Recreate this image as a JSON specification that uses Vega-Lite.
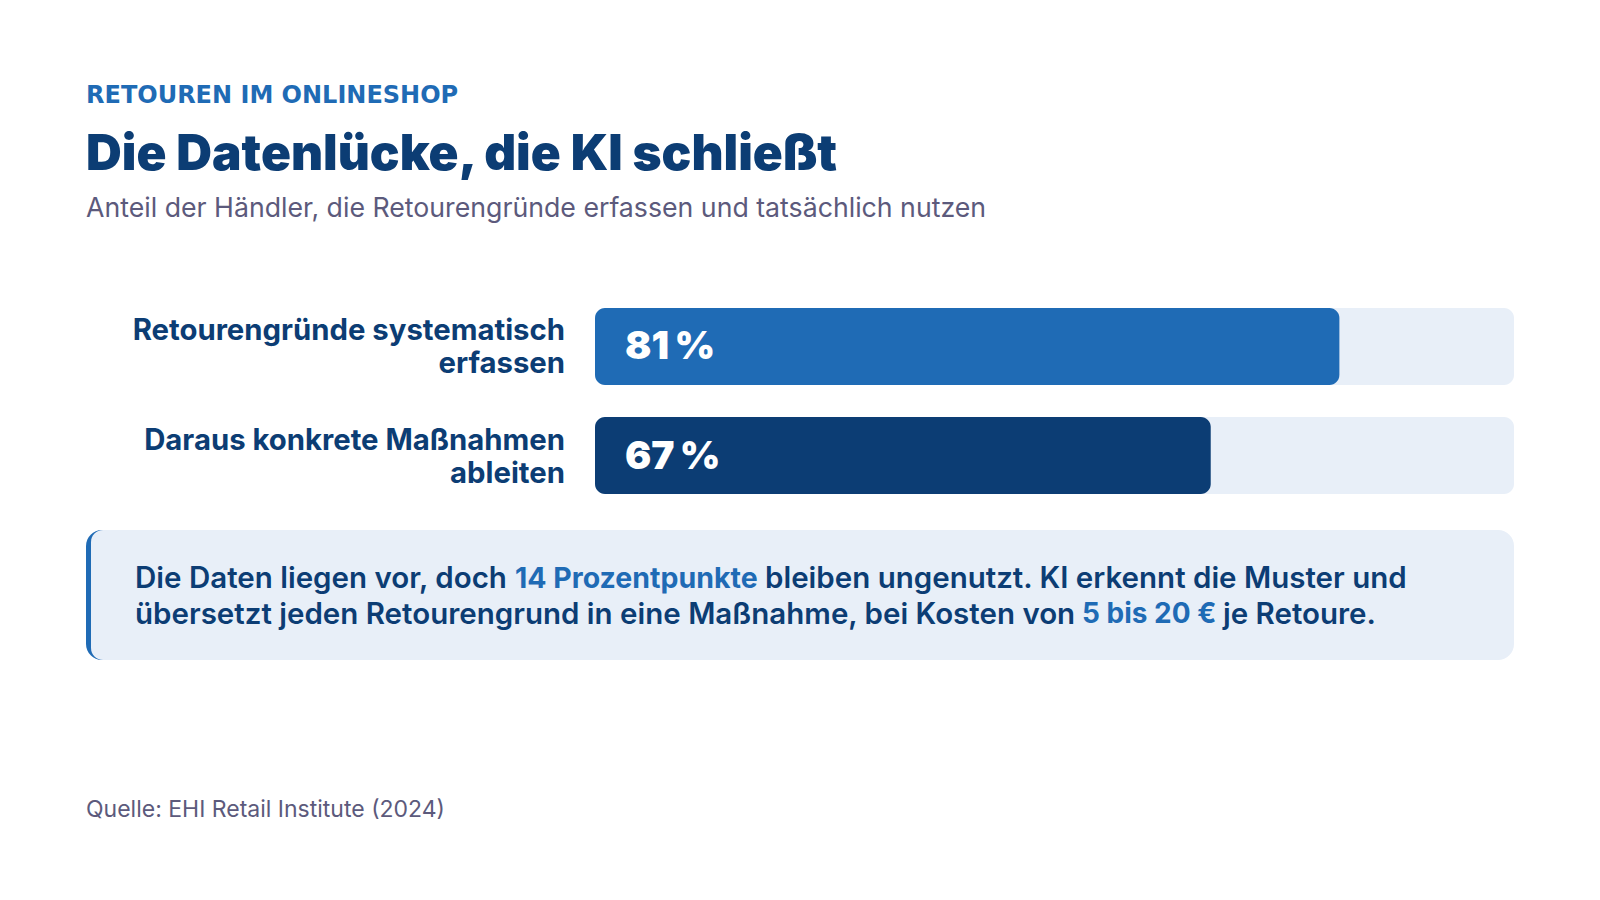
{
  "$schema": "https://vega.github.io/schema/vega-lite/v6.json",
  "background": "white",
  "padding": {"left": 86, "right": 86, "top": 83, "bottom": 20},
  "config": {"view": {"stroke": null}, "font": "Inter"},
  "title": {
    "text": "RETOUREN IM ONLINESHOP",
    "anchor": "start",
    "font": "DejaVu Sans",
    "fontSize": 24,
    "fontWeight": 700,
    "color": "#1f6bb5",
    "offset": 22
  },
  "spacing": 36,
  "vconcat": [
    {
      "width": 1428,
      "height": 186,
      "title": {
        "text": "Die Datenlücke, die KI schließt",
        "subtitle": "Anteil der Händler, die Retourengründe erfassen und tatsächlich nutzen",
        "anchor": "start",
        "frame": "group",
        "font": "Inter",
        "fontSize": 49.5,
        "fontWeight": 900,
        "color": "#0c3d74",
        "subtitleFont": "Inter",
        "subtitleFontSize": 26.7,
        "subtitleFontWeight": 400,
        "subtitleColor": "#5c5a7c",
        "subtitlePadding": 16,
        "offset": 84
      },
      "data": {
        "values": [
          {"category": "Retourengründe systematisch\nerfassen", "value": 81},
          {"category": "Daraus konkrete Maßnahmen\nableiten", "value": 67}
        ]
      },
      "transform": [{"calculate": "datum.value + '\u202f%'", "as": "valueLabel"}],
      "encoding": {
        "y": {
          "field": "category",
          "type": "nominal",
          "sort": null,
          "axis": null,
          "scale": {"paddingInner": 0.2936, "paddingOuter": 0}
        }
      },
      "layer": [
        {
          "mark": {"type": "bar", "color": "#e8eff8", "cornerRadius": 10},
          "encoding": {
            "x": {"datum": 100, "type": "quantitative", "scale": {"domain": [0, 100], "range": [509, 1428]}, "axis": null},
            "x2": {"datum": 0}
          }
        },
        {
          "mark": {"type": "bar", "cornerRadius": 10},
          "encoding": {
            "x": {"field": "value", "type": "quantitative"},
            "x2": {"datum": 0},
            "color": {
              "field": "category",
              "type": "nominal",
              "sort": null,
              "scale": {"range": ["#1f6bb5", "#0c3d74"]},
              "legend": null
            }
          }
        },
        {
          "mark": {
            "type": "text",
            "align": "left",
            "baseline": "middle",
            "dx": 30,
            "dy": 1,
            "font": "Inter",
            "fontSize": 39,
            "fontWeight": 900,
            "color": "white"
          },
          "encoding": {
            "x": {"datum": 0, "type": "quantitative"},
            "text": {"field": "valueLabel", "type": "nominal"}
          }
        },
        {
          "mark": {
            "type": "text",
            "align": "right",
            "baseline": "middle",
            "dx": -30,
            "dy": -15,
            "lineBreak": "\n",
            "lineHeight": 33,
            "font": "Inter",
            "fontSize": 29.3,
            "fontWeight": 700,
            "color": "#0c3d74"
          },
          "encoding": {
            "x": {"datum": 0, "type": "quantitative"},
            "text": {"field": "category", "type": "nominal"}
          }
        }
      ]
    },
    {
      "width": 1428,
      "height": 130,
      "title": {
        "text": "Quelle: EHI Retail Institute (2024)",
        "orient": "bottom",
        "anchor": "start",
        "frame": "group",
        "font": "Inter",
        "fontSize": 23,
        "fontWeight": 400,
        "color": "#5c5a7c",
        "offset": 139
      },
      "data": {"values": [{"note": "Fazit"}]},
      "layer": [
        {
          "mark": {"type": "rect", "color": "#1f6bb5", "cornerRadiusTopLeft": 16, "cornerRadiusBottomLeft": 16, "x": 0, "x2": 40, "y": 0, "y2": 130}
        },
        {
          "mark": {
            "type": "rect",
            "color": "#e8eff8",
            "cornerRadiusTopLeft": 12,
            "cornerRadiusBottomLeft": 12,
            "cornerRadiusTopRight": 16,
            "cornerRadiusBottomRight": 16,
            "x": 5, "x2": 1428, "y": 0, "y2": 130
          }
        },
        {
          "mark": {"type": "text", "text": "Die Daten liegen vor, doch", "align": "left", "baseline": "middle", "font": "Inter", "fontSize": 29.5, "fontWeight": 600, "color": "#0c3d74", "x": 49, "y": 49}
        },
        {
          "mark": {"type": "text", "text": "14 Prozentpunkte", "align": "left", "baseline": "middle", "font": "Inter", "fontSize": 28.5, "fontWeight": 700, "color": "#1f6bb5", "x": 429, "y": 49}
        },
        {
          "mark": {"type": "text", "text": "bleiben ungenutzt. KI erkennt die Muster und", "align": "left", "baseline": "middle", "font": "Inter", "fontSize": 29.5, "fontWeight": 600, "color": "#0c3d74", "x": 679, "y": 49}
        },
        {
          "mark": {"type": "text", "text": "übersetzt jeden Retourengrund in eine Maßnahme, bei Kosten von", "align": "left", "baseline": "middle", "font": "Inter", "fontSize": 29.5, "fontWeight": 600, "color": "#0c3d74", "x": 49, "y": 85}
        },
        {
          "mark": {"type": "text", "text": "5 bis 20 €", "align": "left", "baseline": "middle", "font": "Inter", "fontSize": 28, "fontWeight": 700, "color": "#1f6bb5", "x": 996, "y": 85}
        },
        {
          "mark": {"type": "text", "text": "je Retoure.", "align": "left", "baseline": "middle", "font": "Inter", "fontSize": 29.5, "fontWeight": 600, "color": "#0c3d74", "x": 1137, "y": 85}
        }
      ]
    }
  ]
}
